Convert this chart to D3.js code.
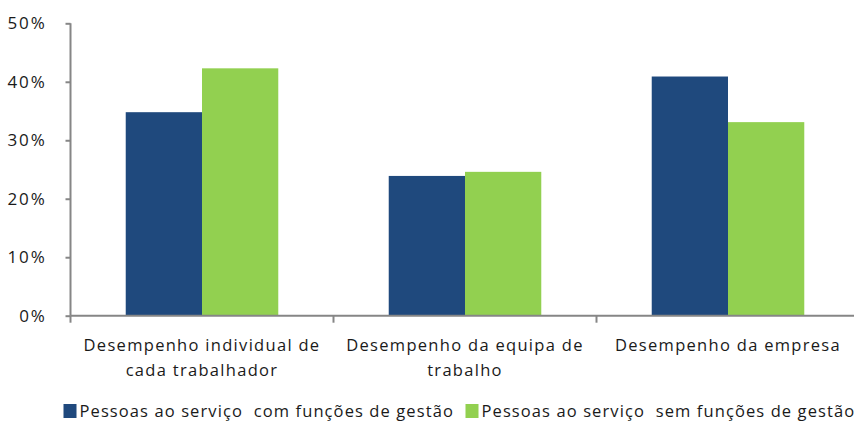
<!DOCTYPE html>
<html>
<head>
<meta charset="utf-8">
<script src="https://cdn.jsdelivr.net/npm/d3@7"></script>
<style>
  body { margin: 0; background: #fff; }
  svg text { font-family: "Open Sans", sans-serif; fill: #1a1a1a; }
</style>
</head>
<body>
<div id="chart"></div>
<script>
// data
var categories = [["Desempenho individual de", "cada trabalhador"], ["Desempenho da equipa de", "trabalho"], ["Desempenho da empresa"]];
var seriesNames = ["Pessoas ao serviço  com funções de gestão", "Pessoas ao serviço  sem funções de gestão"];
var comGestao = [34.8, 23.9, 40.9];
var semGestao = [42.3, 24.6, 33.1];
var yTicks = [0, 10, 20, 30, 40, 50];
var colors = ["#1f497d", "#92d050"];

var w = 854, h = 421;
var padL = 70.5, padR = 859.5, padT = 23.3, padB = 315.7;

var svg = d3.select("#chart").append("svg")
  .attr("width", w)
  .attr("height", h);

var x = d3.scaleBand()
  .domain(d3.range(categories.length))
  .range([padL, padR])
  .paddingInner(0.42)
  .paddingOuter(0.21);

var x1 = d3.scaleBand()
  .domain([0, 1])
  .range([0, x.bandwidth()]);

var y = d3.scaleLinear()
  .domain([0, 50])
  .range([padB, padT]);

// bars
var series = [comGestao, semGestao];
series.forEach(function(vals, s) {
  svg.append("g").selectAll("rect")
    .data(vals)
    .enter().append("rect")
    .attr("x", function(d, i) { return x(i) + x1(s); })
    .attr("y", function(d) { return y(d); })
    .attr("width", x1.bandwidth())
    .attr("height", function(d) { return padB - y(d); })
    .attr("fill", colors[s]);
});

// y axis
var yAxis = d3.axisLeft(y)
  .tickValues(yTicks)
  .tickFormat(function(d) { return d + "%"; })
  .tickSize(5)
  .tickPadding(19);

var gy = svg.append("g")
  .attr("transform", "translate(" + padL + ",0)")
  .call(yAxis);
gy.select(".domain").attr("stroke", "#868686").attr("stroke-width", 2).attr("d", "M0," + padT + "V" + padB);
gy.selectAll(".tick line").attr("stroke", "#868686").attr("stroke-width", 2);
gy.selectAll(".tick text")
  .attr("font-family", null)
  .style("font-size", "17px")
  .style("letter-spacing", "1.8px")
  .attr("fill", "#1a1a1a");

// x axis line + category separators
var step = x.step();
var sepX = d3.range(categories.length + 1).map(function(i) { return padL + i * step; });
svg.append("line")
  .attr("x1", padL).attr("x2", w)
  .attr("y1", padB).attr("y2", padB)
  .attr("stroke", "#868686").attr("stroke-width", 2);
svg.append("g").selectAll("line")
  .data(sepX)
  .enter().append("line")
  .attr("x1", function(d) { return d; }).attr("x2", function(d) { return d; })
  .attr("y1", padB).attr("y2", padB + 7)
  .attr("stroke", "#868686").attr("stroke-width", 2);

// category labels
categories.forEach(function(lines, i) {
  var cx = x(i) + x.bandwidth() / 2;
  var t = svg.append("text")
    .attr("x", cx)
    .attr("y", 351)
    .attr("text-anchor", "middle")
    .style("font-size", "16.5px")
    .style("letter-spacing", "1.3px");
  lines.forEach(function(l, k) {
    t.append("tspan")
      .attr("x", cx)
      .attr("dy", k == 0 ? 0 : 25)
      .text(l);
  });
});

// legend
var legendX = [63.5, 465.5];
seriesNames.forEach(function(name, s) {
  svg.append("rect")
    .attr("x", legendX[s]).attr("y", 404)
    .attr("width", 13).attr("height", 14)
    .attr("fill", colors[s]);
  svg.append("text")
    .attr("x", legendX[s] + 16).attr("y", 417)
    .style("font-size", "16.5px")
    .style("letter-spacing", "1.1px")
    .style("white-space", "pre")
    .text(name);
});
</script>
</body>
</html>
